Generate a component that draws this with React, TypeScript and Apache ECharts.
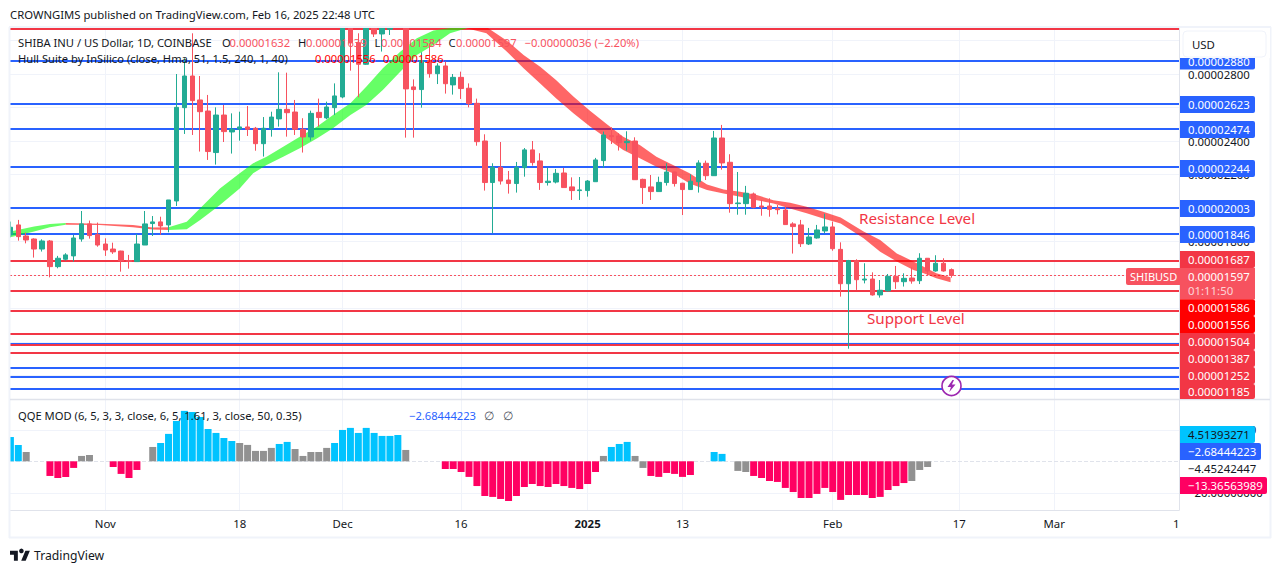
import React, { useEffect, useRef } from "react";
import * as echarts from "echarts";

// All prices are in units of 0.00000001 USD, one entry per day from 20 Oct 2024.
// Candles that run off the top of the pane are read only up to the pane's top edge (3080).
const opens: (number | null)[] = [1839,1899,1833,1815,1755,1803,1650,1694,1714,1815,1905,1841,1785,1755,1743,1686,1680,1779,1907,1917,1899,2042,2599,2788,2645,2579,2331,2555,2454,2472,2484,2476,2384,2474,2532,2589,2573,2470,2424,2571,2538,2599,2663,3080,2987,2858,3080,3039,3067,null,3080,2723,2707,2880,2802,2848,2735,2780,2715,2625,2400,2152,2243,2167,2146,2241,2347,2281,2152,2155,2209,2126,2104,2104,2157,2283,2432,2430,2390,2400,2171,2126,2098,2152,2215,2148,2110,2157,2267,2193,2418,2273,2026,2026,2084,2012,2012,1996,1988,1905,1899,1785,1821,1863,1887,1753,1548,1686,1570,1576,1481,1505,1592,1560,1582,1566,1700,1624,1670,1632];
const closes: (number | null)[] = [1885,1829,1809,1755,1803,1650,1700,1720,1821,1905,1835,1779,1749,1738,1684,1682,1785,1905,1917,1893,2048,2601,2788,2641,2575,2337,2555,2456,2470,2484,2470,2384,2476,2543,2589,2569,2470,2424,2565,2540,2603,2669,3080,2987,2858,3080,3039,3080,3080,null,2711,2707,2880,2802,2848,2742,2780,2713,2623,2396,2152,2243,2161,2146,2243,2347,2271,2152,2160,2207,2122,2104,2108,2161,2287,2436,2426,2390,2398,2169,2122,2098,2153,2215,2146,2110,2160,2269,2193,2418,2269,2026,2030,2088,2004,2006,1992,1990,1901,1889,1787,1827,1869,1887,1757,1548,1686,1572,1576,1481,1509,1592,1560,1580,1564,1700,1624,1670,1624,1597];
const highs: (number | null)[] = [1919,1929,1853,1819,1813,1809,1714,1730,1839,1982,1925,1913,1819,1793,1745,1720,1845,1982,1952,1948,2048,2800,2894,3043,2788,2675,2601,2615,2565,2575,2609,2484,2543,2575,2810,2808,2645,2536,2581,2653,2635,2744,3080,3080,3043,3080,3080,3080,3080,null,3080,2768,2930,2983,2864,2874,2800,2814,2744,2653,2440,2267,2394,2221,2275,2358,2400,2327,2241,2233,2239,2183,2185,2167,2299,2456,2482,2446,2458,2422,2175,2197,2187,2267,2217,2150,2201,2285,2283,2460,2496,2321,2215,2132,2092,2048,2058,2018,2008,1915,1929,1881,1899,1966,1919,1795,1690,1694,1670,1616,1570,1606,1654,1610,1646,1730,1700,1718,1700,1639];
const lows: (number | null)[] = [1825,1805,1789,1704,1740,1586,1640,1686,1680,1799,1817,1769,1714,1726,1620,1638,1680,1779,1833,1841,1855,2012,2442,2436,2337,2287,2259,2394,2325,2402,2430,2342,2307,2426,2486,2426,2436,2331,2402,2486,2530,2555,2655,2820,2661,2854,3021,2934,3033,null,2420,2420,2599,2778,2740,2683,2677,2651,2601,2372,2104,1849,2140,2086,2092,2187,2253,2108,2134,2147,2122,2048,2048,2068,2157,2241,2382,2343,2343,2169,2024,2048,2098,2134,2128,1958,2108,2092,2167,2191,2229,1972,1960,1960,1998,1954,1948,1962,1901,1728,1767,1779,1817,1849,1745,1471,1160,1511,1550,1477,1465,1501,1517,1531,1548,1546,1600,1620,1620,1584];

const hullDays = [0,3,5,7,11.3,15.5,18,20,22.3,24,26.5,29,30.7,32.4,34.5,36.6,38.8,40.8,43,45,47.1,49.3,51.4,53.5,55.6,57.7,60.2,62.8,64.9,67,69,71.2,73.3,75.4,77.5,79.6,81.7,83.8,85.9,88.1,90.2,92.3,94.4,96.5,98.6,100.7,102.8,105,107.9,110,112.1,114.2,115.5,117.1,118.9];
const hullUpper = [1859,1889,1905,1910,1906,1899,1883,1885,1918,1998,2117,2207,2267,2306,2366,2426,2486,2555,2625,2724,2834,2933,3013,3059,3075,3079,3080,2999,2913,2844,2764,2665,2581,2502,2426,2376,2306,2257,2207,2141,2111,2097,2077,2047,2031,2007,1978,1944,1859,1809,1729,1680,1650,1610,1586];
const hullLower = [1825,1859,1885,1900,1899,1885,1871,1869,1873,1928,2018,2117,2207,2257,2306,2356,2416,2476,2555,2615,2704,2814,2913,2973,3043,3073,3043,2933,2834,2744,2655,2565,2486,2416,2346,2297,2247,2207,2147,2107,2087,2067,2047,2027,1997,1968,1938,1908,1819,1739,1680,1630,1610,1580,1556];
const hullBreaks = [0, 3, 7, 25, 54];
const hullColors = ["rgba(0,255,0,0.6)", "rgba(255,0,0,0.6)", "rgba(0,255,0,0.6)", "rgba(255,0,0,0.6)"];

const qqeValues: (number | null)[] = [15.4,10.4,5.9,null,null,-9.3,-10.6,-9.9,-4.2,3.4,4,null,null,-3.6,-8,-10.6,-5.5,null,9.1,11.6,17.4,25.6,32,31.3,28.1,20.5,18,14.8,12.9,11.6,10.4,6.6,6.6,8.5,11,12.3,7.8,3.4,5.9,5.9,8.5,11.6,19.9,21.2,18,21.2,18,16.1,16.1,16.7,7.2,null,null,null,null,-4.9,-4.9,-6.8,-9.9,-15.7,-22,-22.6,-23.9,-25.2,-22,-16.3,-14.4,-15.7,-16.3,-14.4,-15.7,-16.9,-17.6,-14.4,-6.8,3.4,9.1,11,12.3,3.4,-4.2,-9.3,-9.9,-7.4,-8,-9.9,-8.7,null,null,5.9,4.7,null,-6.1,-6.8,-9.3,-10.6,-12.5,-13.1,-16.9,-19.5,-23.3,-23.3,-20.7,-16.9,-19.5,-24.5,-21.4,-21.4,-21.4,-23.3,-22.6,-18.2,-15.7,-13.8,-12.5,-5.5,-3.6];
const qqeKinds = "ccg..rrrrgg..rrrr.gcccccccccc" + "ggggg" + "cc" + "ggggg" + "ccccccccc" + "g" + "....rrrrrrrrrrrrrrrrrrrr" + "g" + "ccc" + "gg" + "rrrrrr" + "..cc." + "gg" + "rrrrrrrrrrrrrrrrrrrr" + "ggg";

const blueLevels = [2880, 2623, 2474, 2244, 2003, 1846, 1188, 1047, 993, 921];
const redLevels = [3069, 1687, 1504, 1387, 1252, 1185, 1136];
const priceGrid = [3000, 2800, 2600, 2400, 2200, 2000, 1800, 1600, 1400, 1200, 1000];
const priceLabels = [2800, 2400, 2200, 1800];
const qqeGrid = [20, -20];
const lastPrice = 1597;

const tickDays = [12, 29, 42, 57, 73, 85, 104, 120, 132];
const tickLabels = ["Nov", "18", "Dec", "16", "2025", "13", "Feb", "17", "Mar"];
const clippedTickDay = 147.45;
const clippedTickLabel = "1";

const blueBadges = ["0.00002880", "0.00002623", "0.00002474", "0.00002244", "0.00002003", "0.00001846"];
const redBadges = ["0.00001687", "0.00001504", "0.00001387", "0.00001252", "0.00001185"];

const FONT = "'Noto Sans', sans-serif";
const INK = "#131722";
const RED = "#f23645";
const BLUE = "#2962ff";
const LINE = "#e0e3eb";
const GRID = "#f0f3fa";
const UP = "#22ab94";
const DOWN = "#f7525f";
const DAY_MIN = -0.05;
const DAY_MAX = 147.79;

const BOLT = "M5 0 L0 7 L3.4 7 L1.8 12 L8 4.6 L4.4 4.6 L6.5 0 Z";
const TV_MARK = "M14 22H7V11H0V4h14v18zM28 22h-8l7.5-18h8L28 22z";

echarts.graphic.registerShape("bolt", (echarts.graphic as any).extendPath(BOLT, {}));
echarts.graphic.registerShape("tvmark", (echarts.graphic as any).extendPath(TV_MARK, {}));

function t(text: string, x: number, y: number, fill: string, size = 11, extra: any = {}) {
  return {
    type: "text",
    x,
    y,
    z: extra.z ?? 60,
    silent: true,
    style: {
      text,
      fill,
      fontSize: size,
      fontFamily: FONT,
      textVerticalAlign: "middle",
      textAlign: extra.align ?? "left",
      fontWeight: extra.weight ?? "normal",
    },
  };
}

function badge(text: string, y0: number, y1: number, fill: string, right = 1255, ink = "#ffffff") {
  return [
    {
      type: "rect",
      z: 50,
      silent: true,
      shape: { x: 1180, y: y0, width: right - 1180, height: y1 - y0, r: [0, 2, 2, 0] },
      style: { fill },
    },
    t(text, 1188, (y0 + y1) / 2, ink, 11.4, { z: 51 }),
  ];
}

function vline(x: number, y0: number, y1: number, stroke: string, width = 1, z = 70) {
  return { type: "line", z, silent: true, shape: { x1: x, y1: y0, x2: x, y2: y1 }, style: { stroke, lineWidth: width } };
}

function hline(y: number, x0: number, x1: number, stroke: string, width = 1, z = 70) {
  return { type: "line", z, silent: true, shape: { x1: x0, y1: y, x2: x1, y2: y }, style: { stroke, lineWidth: width } };
}

function buildGraphic() {
  const els: any[] = [];
  // left margin hides the part of the first candle that lies outside the pane
  els.push({ type: "rect", z: 39, silent: true, shape: { x: 0, y: 27, width: 9.5, height: 511 }, style: { fill: "#ffffff" } });
  // header
  els.push(t("CROWNGIMS published on TradingView.com, Feb 16, 2025 22:48 UTC", 10, 14.5, INK, 11.3));
  // frame
  els.push(hline(27, 9, 1271, GRID, 2, 40));
  els.push(hline(537.5, 9, 1271, GRID, 2, 40));
  els.push(vline(9.5, 27, 538, GRID, 2, 40));
  els.push(vline(1270.5, 27, 538, GRID, 2, 40));
  // legend lines
  els.push(t("SHIBA INU / US Dollar, 1D, COINBASE", 18, 42, INK, 11.2));
  els.push(t("O", 222, 42, INK, 11.2));
  els.push(t("0.00001632", 229.5, 42, DOWN, 11.2));
  els.push(t("H", 298, 42, INK, 11.2));
  els.push(t("0.00001639", 306, 42, DOWN, 11.2));
  els.push(t("L", 374.5, 42, INK, 11.2));
  els.push(t("0.00001584", 381, 42, DOWN, 11.2));
  els.push(t("C", 448.5, 42, INK, 11.2));
  els.push(t("0.00001597", 456, 42, DOWN, 11.2));
  els.push(t("\u22120.00000036 (\u22122.20%)", 524.5, 42, DOWN, 11.2));
  els.push(t("Hull Suite by InSilico (close, Hma, 51, 1.5, 240, 1, 40)", 18, 58.5, INK, 11.2));
  els.push(t("0.00001556", 315, 58.5, "#ff0000", 11.2));
  els.push(t("0.00001586", 383, 58.5, "#ff0000", 11.2));
  els.push(t("QQE MOD (6, 5, 3, 3, close, 6, 5, 1.61, 3, close, 50, 0.35)", 18, 415, INK, 11.2));
  els.push(t("\u22122.68444223", 409, 415, BLUE, 11.2));
  els.push(t("\u2205", 484, 415, "#50535e", 12));
  els.push(t("\u2205", 503, 415, "#50535e", 12));
  // annotations
  els.push(t("Resistance Level", 859, 218, RED, 15.2));
  els.push(t("Support Level", 867, 318, RED, 15.2));
  // last-price flag
  els.push({ type: "rect", z: 50, silent: true, shape: { x: 1126, y: 268, width: 54, height: 17, r: [2, 0, 0, 2] }, style: { fill: DOWN } });
  els.push(t("SHIBUSD", 1130, 276.5, "#ffffff", 11, { z: 51 }));
  // price badges
  const blueY = [[52.5, 69.5], [96, 113], [121, 138], [160, 177], [200, 217], [226, 243]];
  blueBadges.forEach((b, i) => els.push(...badge(b, blueY[i][0], blueY[i][1], BLUE)));
  const redY = [[251, 268], [333, 350], [350, 367], [367, 384], [384, 399]];
  redBadges.forEach((b, i) => els.push(...badge(b, redY[i][0], redY[i][1], "#f23645")));
  els.push({ type: "rect", z: 50, silent: true, shape: { x: 1180, y: 268, width: 75, height: 31.3, r: 0 }, style: { fill: DOWN } });
  els.push(t("0.00001597", 1188, 276.8, "#ffffff", 11.4, { z: 51 }));
  els.push(t("01:11:50", 1188, 290.7, "rgba(255,255,255,0.75)", 11.4, { z: 51 }));
  els.push(...badge("0.00001586", 299.3, 316, "#ff0000"));
  els.push(...badge("0.00001556", 316, 333, "#ff0000"));
  // QQE badges
  els.push(...badge("4.51393271", 426, 443, "#00c3ff", 1255, INK));
  els.push(...badge("\u22122.68444223", 443, 460, BLUE, 1261));
  els.push(t("\u22124.45242447", 1188, 468.7, INK, 11.4, { z: 51 }));
  els.push(...badge("\u221213.36563989", 477, 494, "#ff0062", 1267));
  // USD button area sits over the top badge
  els.push({ type: "rect", z: 52, silent: true, shape: { x: 1180, y: 28, width: 90, height: 30 }, style: { fill: "#ffffff" } });
  els.push({ type: "rect", z: 53, silent: true, shape: { x: 1183, y: 31, width: 83, height: 26, r: 4 }, style: { fill: "#ffffff", stroke: GRID, lineWidth: 1 } });
  els.push(t("USD", 1192, 44, INK, 11.4, { z: 54 }));
  // pane separators
  els.push(hline(399.5, 10, 1270, LINE, 1.5, 45));
  // lightning marker
  els.push({ type: "circle", z: 55, silent: true, shape: { cx: 951.5, cy: 386, r: 9.5 }, style: { fill: "#ffffff", stroke: "#9c27b0", lineWidth: 1.6 } });
  els.push({ type: "bolt", z: 56, silent: true, x: 947.5, y: 380, style: { fill: "#9c27b0" } });
  // TradingView footer mark
  els.push({ type: "tvmark", z: 56, silent: true, x: 10, y: 548.5, scaleX: 0.56, scaleY: 0.56, style: { fill: INK } });
  els.push({ type: "circle", z: 56, silent: true, shape: { cx: 21.4, cy: 550.9, r: 2.3 }, style: { fill: INK } });
  els.push(t("TradingView", 34, 555.5, INK, 12.2));
  return els;
}

export default function App() {
  const ref = useRef<HTMLDivElement>(null);
  useEffect(() => {
    const chart = echarts.init(ref.current!, undefined, { renderer: "svg" });
    const candleData: any[] = [];
    opens.forEach((o, i) => {
      if (o !== null) candleData.push([i, o, closes[i], lows[i], highs[i]]);
    });
    const kindColor: Record<string, string> = { c: "#00c3ff", g: "#919191", r: "#ff0062" };
    const qqeData: any[] = [];
    qqeValues.forEach((v, i) => {
      if (v !== null) qqeData.push({ value: [i, v], itemStyle: { color: kindColor[qqeKinds[i]] ?? "#919191" } });
    });
    const xBase = { type: "value", min: DAY_MIN, max: DAY_MAX, splitLine: { show: false }, axisTick: { show: false } };
    const labelFor = (v: number) => {
      if (v === clippedTickDay) return clippedTickLabel;
      const i = tickDays.indexOf(v);
      if (i < 0) return "";
      return tickLabels[i] === "2025" ? "{b|2025}" : tickLabels[i];
    };
    const option: any = {
      animation: false,
      backgroundColor: "#ffffff",
      textStyle: { fontFamily: FONT },
      graphic: { elements: buildGraphic() },
      grid: [
        { left: 10, top: 27, width: 1169, height: 372 },
        { left: 10, top: 400, width: 1169, height: 110 },
      ],
      xAxis: [
        { ...xBase, gridIndex: 0, axisLine: { show: false }, axisLabel: { show: false } },
        {
          ...xBase,
          gridIndex: 1,
          position: "bottom",
          axisLine: { show: true, onZero: false, lineStyle: { color: LINE, width: 1 } },
          axisLabel: {
            show: true,
            customValues: [...tickDays, clippedTickDay],
            formatter: labelFor,
            color: INK,
            fontSize: 11.4,
            fontFamily: FONT,
            margin: 8,
            hideOverlap: false,
            rich: { b: { fontWeight: 700, fontSize: 11.4, color: INK, fontFamily: FONT } },
          },
        },
      ],
      yAxis: [
        {
          type: "value",
          gridIndex: 0,
          position: "right",
          min: 859.7,
          max: 3080.6,
          splitLine: { show: false },
          axisTick: { show: false },
          axisLine: { show: true, onZero: false, lineStyle: { color: LINE } },
          axisLabel: {
            show: true,
            customValues: priceLabels,
            color: INK,
            fontSize: 11.4,
            fontFamily: FONT,
            margin: 9,
            align: "left",
            hideOverlap: false,
            formatter: (v: number) => (v / 1e8).toFixed(8),
          },
        },
        {
          type: "value",
          gridIndex: 1,
          position: "right",
          min: -30.9,
          max: 38.9,
          splitLine: { show: false },
          axisTick: { show: false },
          axisLine: { show: true, onZero: false, lineStyle: { color: LINE } },
          axisLabel: {
            show: true,
            customValues: qqeGrid,
            color: INK,
            fontSize: 11.4,
            fontFamily: FONT,
            margin: 9,
            align: "left",
            hideOverlap: false,
            formatter: (v: number) => (v < 0 ? "\u2212" : "") + Math.abs(v).toFixed(8),
          },
        },
      ],
      series: [
        {
          type: "line",
          name: "levels",
          xAxisIndex: 0,
          yAxisIndex: 0,
          z: 1,
          data: [[0, lastPrice]],
          showSymbol: false,
          lineStyle: { opacity: 0 },
          markLine: {
            silent: true,
            symbol: "none",
            z: 1,
            animation: false,
            label: { show: false },
            data: [
              ...tickDays.map((d) => ({ xAxis: d, lineStyle: { color: GRID, width: 1, type: "solid" } })),
              ...priceGrid.map((v) => ({ yAxis: v, lineStyle: { color: GRID, width: 1, type: "solid" } })),
              ...blueLevels.map((v) => ({ yAxis: v, lineStyle: { color: BLUE, width: 2, type: "solid" } })),
              ...redLevels.map((v) => ({ yAxis: v, lineStyle: { color: RED, width: 2, type: "solid" } })),
              { yAxis: lastPrice, lineStyle: { color: DOWN, width: 1, type: [2, 2] } },
            ],
          },
        },
        {
          type: "custom",
          name: "Hull Suite",
          xAxisIndex: 0,
          yAxisIndex: 0,
          z: 2,
          clip: true,
          silent: true,
          data: hullColors.map((_, i) => [i]),
          renderItem: (params: any, api: any) => {
            const k = params.dataIndex;
            const from = hullBreaks[k];
            const to = hullBreaks[k + 1];
            const pts: number[][] = [];
            for (let i = from; i <= to; i++) pts.push(api.coord([hullDays[i], hullUpper[i]]));
            for (let i = to; i >= from; i--) pts.push(api.coord([hullDays[i], hullLower[i]]));
            return { type: "polygon", shape: { points: pts }, style: { fill: hullColors[k] } };
          },
        },
        {
          type: "candlestick",
          name: "SHIBUSD",
          xAxisIndex: 0,
          yAxisIndex: 0,
          z: 3,
          clip: true,
          barWidth: 5,
          silent: true,
          encode: { x: 0, y: [1, 2, 3, 4] },
          data: candleData,
          itemStyle: { color: UP, color0: DOWN, borderColor: UP, borderColor0: DOWN, borderColorDoji: UP, borderWidth: 1 },
        },
        {
          type: "bar",
          name: "QQE MOD",
          xAxisIndex: 1,
          yAxisIndex: 1,
          z: 3,
          barWidth: 7,
          silent: true,
          clip: true,
          data: qqeData,
          markLine: {
            silent: true,
            symbol: "none",
            z: 1,
            animation: false,
            label: { show: false },
            data: [
              ...tickDays.map((d) => ({ xAxis: d, lineStyle: { color: GRID, width: 1, type: "solid" } })),
              ...qqeGrid.map((v) => ({ yAxis: v, lineStyle: { color: GRID, width: 1, type: "solid" } })),
              { yAxis: 0, lineStyle: { color: LINE, width: 1, type: "dashed" } },
            ],
          },
        },
      ],
    };
    chart.setOption(option);
    return () => chart.dispose();
  }, []);
  return <div ref={ref} style={{ position: "fixed", left: 0, top: 0, width: 1281, height: 573, background: "#fff" }} />;
}
